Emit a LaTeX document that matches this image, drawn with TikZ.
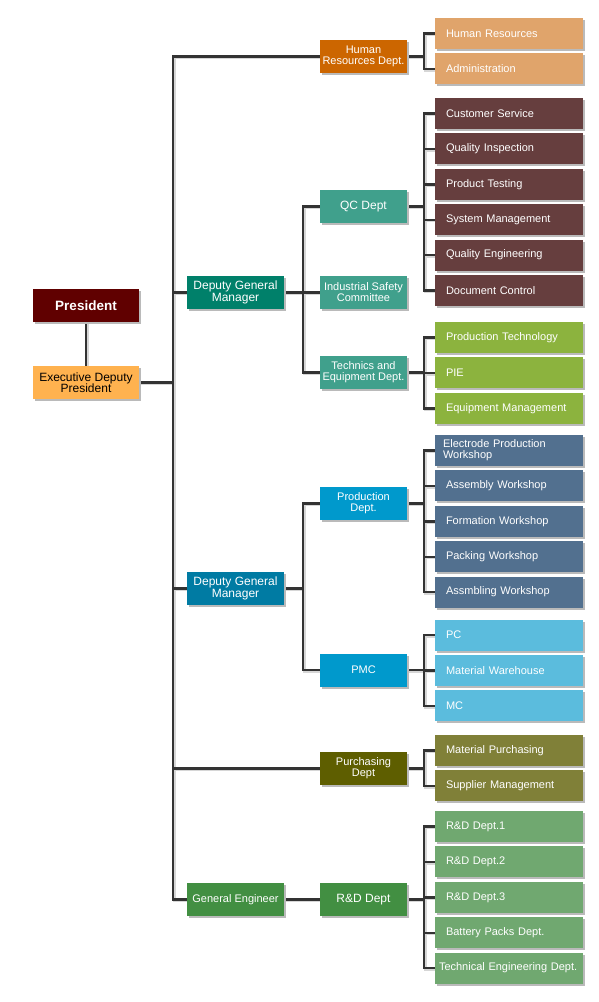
\documentclass[tikz,border=0pt]{standalone}
\usepackage{fontspec}
\setmainfont{Liberation Sans}
\usetikzlibrary{positioning,shadows,backgrounds}
\definecolor{presred}{HTML}{600000}
\definecolor{execgold}{HTML}{FFB24F}
\definecolor{hrorange}{HTML}{CC6600}
\definecolor{hrlight}{HTML}{E0A46B}
\definecolor{dgmteal}{HTML}{00806A}
\definecolor{qcteal}{HTML}{40A08C}
\definecolor{qcleaf}{HTML}{663E3E}
\definecolor{techleaf}{HTML}{8CB33E}
\definecolor{dgmblue}{HTML}{007BA3}
\definecolor{prodblue}{HTML}{0099CC}
\definecolor{prodleaf}{HTML}{52708F}
\definecolor{pmcleaf}{HTML}{5BBCDD}
\definecolor{purchdept}{HTML}{5E5E00}
\definecolor{purchleaf}{HTML}{808038}
\definecolor{rdgreen}{HTML}{428F42}
\definecolor{rdleaf}{HTML}{70A870}
\definecolor{linegray}{HTML}{333333}
\tikzset{
  box/.style={rectangle,align=center,text=white,inner xsep=2pt,inner ysep=2pt,
    minimum height=33pt,font=\fontsize{11}{11}\selectfont,
    drop shadow={shadow xshift=2pt,shadow yshift=-2pt,fill=black!27,opacity=1}},
  topbox/.style={box,minimum width=106pt},
  mgrbox/.style={box,minimum width=97pt,font=\fontsize{12}{11.5}\selectfont},
  deptbox/.style={box,minimum width=87pt},
  leaf/.style={box,minimum height=31pt,text width=126pt,inner xsep=11pt,align=left},
  bigtext/.style={font=\fontsize{12}{11.5}\selectfont},
  link/.style={draw=linegray,line width=2.4pt,
    preaction={draw=black!16,line width=2.4pt,transform canvas={shift={(1.5pt,-1.5pt)}}}}
}

\begin{document}
\begin{tikzpicture}[x=1pt,y=-1pt,node distance=4pt]
  \useasboundingbox (0,0) rectangle (599,1002);
  % top of the chart
  \node[topbox,fill=presred,font=\bfseries\fontsize{13.5}{14}\selectfont] (pres) at (86,305.5) {President};
  \node[topbox,fill=execgold,text=black,bigtext] (exec) at (86,382.5) {Executive Deputy\\President};

  % second and third level
  \node[deptbox,fill=hrorange] (hrd) at (363.5,56.5) {Human\\Resources Dept.};
  \node[mgrbox,fill=dgmteal] (dgm1) at (235.5,292.5) {Deputy General\\Manager};
  \node[deptbox,fill=qcteal,bigtext] (qc) at (363.5,206.5) {QC Dept};
  \node[deptbox,fill=qcteal] (isc) at (363.5,292.5) {Industrial Safety\\Committee};
  \node[deptbox,fill=qcteal] (tec) at (363.5,372.5) {Technics and\\Equipment Dept.};
  \node[mgrbox,fill=dgmblue] (dgm2) at (235.5,588.5) {Deputy General\\Manager};
  \node[deptbox,fill=prodblue] (prod) at (363.5,503.5) {Production\\Dept.};
  \node[deptbox,fill=prodblue] (pmc) at (363.5,670) {PMC};
  \node[deptbox,fill=purchdept] (pur) at (363.5,768.5) {Purchasing\\Dept};
  \node[mgrbox,fill=rdgreen,font=\fontsize{11}{11}\selectfont] (geng) at (235.5,899.5) {General Engineer};
  \node[deptbox,fill=rdgreen,bigtext] (rnd) at (363.5,899.5) {R\&D Dept};

  % sections
  \node[leaf,fill=hrlight] (hr1) at (509,33.5) {Human Resources};
  \node[leaf,fill=hrlight,below=of hr1] (hr2) {Administration};

  \node[leaf,fill=qcleaf] (qc1) at (509,113.5) {Customer Service};
  \node[leaf,fill=qcleaf,below=of qc1] (qc2) {Quality Inspection};
  \node[leaf,fill=qcleaf,below=of qc2] (qc3) {Product Testing};
  \node[leaf,fill=qcleaf,below=of qc3] (qc4) {System Management};
  \node[leaf,fill=qcleaf,below=of qc4] (qc5) {Quality Engineering};
  \node[leaf,fill=qcleaf,below=of qc5] (qc6) {Document Control};

  \node[leaf,fill=techleaf] (te1) at (509,337.5) {Production Technology};
  \node[leaf,fill=techleaf,below=of te1] (te2) {PIE};
  \node[leaf,fill=techleaf,below=of te2] (te3) {Equipment Management};

  \node[leaf,fill=prodleaf,inner xsep=8pt,text width=132pt] (pr1) at (509,450.5) {Electrode Production\\Workshop};
  \node[leaf,fill=prodleaf,below=of pr1] (pr2) {Assembly Workshop};
  \node[leaf,fill=prodleaf,below=of pr2] (pr3) {Formation Workshop};
  \node[leaf,fill=prodleaf,below=of pr3] (pr4) {Packing Workshop};
  \node[leaf,fill=prodleaf,below=of pr4] (pr5) {Assmbling Workshop};

  \node[leaf,fill=pmcleaf] (pm1) at (509,635) {PC};
  \node[leaf,fill=pmcleaf,below=of pm1] (pm2) {Material Warehouse};
  \node[leaf,fill=pmcleaf,below=of pm2] (pm3) {MC};

  \node[leaf,fill=purchleaf] (pu1) at (509,750.5) {Material Purchasing};
  \node[leaf,fill=purchleaf,below=of pu1] (pu2) {Supplier Management};

  \node[leaf,fill=rdleaf] (rd1) at (509,826.5) {R\&D Dept.1};
  \node[leaf,fill=rdleaf,below=of rd1] (rd2) {R\&D Dept.2};
  \node[leaf,fill=rdleaf,below=of rd2] (rd3) {R\&D Dept.3};
  \node[leaf,fill=rdleaf,below=of rd3] (rd4) {Battery Packs Dept.};
  \node[leaf,fill=rdleaf,below=of rd4,inner xsep=4pt,text width=140pt] (rd5) {Technical Engineering Dept.};

  % connectors
  \coordinate (spine) at (173,0);
  \coordinate (midspine) at (303,0);
  \coordinate (leafspine) at (424,0);
  \begin{scope}[on background layer]
    \draw[link] (pres) -- (exec);
    \draw[link] (exec.east) -- (exec.east -| spine);
    \draw[link] (hrd.west) -- (hrd.west -| spine) -- (geng.west -| spine) -- (geng.west);
    \foreach \n in {dgm1,dgm2,pur}
      \draw[link] (\n.west -| spine) -- (\n.west);
    \draw[link] (geng) -- (rnd);
    \foreach \m/\a/\z/\b in {dgm1/qc/tec/isc,dgm2/prod/pmc/prod} {
      \draw[link] (\m.east) -- (\m.east -| midspine);
      \draw[link] (\a.west) -- (\a.west -| midspine) -- (\z.west -| midspine) -- (\z.west);
      \draw[link] (\b.west -| midspine) -- (\b.west);
    }
    \foreach \m/\a/\z in {hrd/hr1/hr2,qc/qc1/qc6,tec/te1/te3,prod/pr1/pr5,pmc/pm1/pm3,pur/pu1/pu2,rnd/rd1/rd5} {
      \draw[link] (\m.east) -- (\m.east -| leafspine);
      \draw[link] (\a.west) -- (\a.west -| leafspine) -- (\z.west -| leafspine) -- (\z.west);
    }
    \foreach \n in {qc2,qc3,qc4,qc5,te2,pr2,pr3,pr4,pm2,rd2,rd3,rd4}
      \draw[link] (\n.west -| leafspine) -- (\n.west);
  \end{scope}
\end{tikzpicture}
\end{document}
